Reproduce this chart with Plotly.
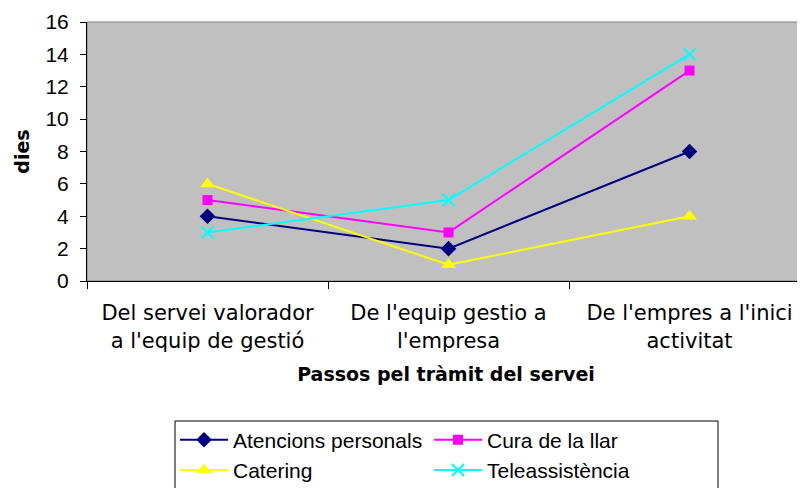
import plotly.graph_objects as go

categories = ["Del servei valorador<br>a l'equip de gestió",
              "De l'equip gestio a<br>l'empresa",
              "De l'empres a l'inici<br>activitat"]
atencions = [4, 2, 8]
cura = [5, 3, 13]
catering = [6, 1, 4]
tele = [3, 5, 14]

series = [
    ("Atencions personals", atencions, "#000080", "diamond", 12),
    ("Cura de la llar", cura, "#FF00FF", "square", 10),
    ("Catering", catering, "#FFFF00", "triangle-up", 13),
    ("Teleassistència", tele, "#00FFFF", "x-thin-open", 12),
]

fig = go.Figure()
for name, vals, col, sym, sz in series:
    mk = dict(symbol=sym, size=sz, color=col)
    if sym.startswith("x-thin"):
        mk["line"] = dict(color=col, width=2)
    fig.add_trace(go.Scatter(x=categories, y=vals, name=name, mode="lines+markers",
                             line=dict(color=col, width=2), marker=mk))

# page body has an 8px margin, so the figure is offset by (8, 8)
fig.update_layout(
    width=797, height=480,
    margin=dict(l=79, r=0, t=14, b=207, autoexpand=False),
    paper_bgcolor="white", plot_bgcolor="#C0C0C0",
    font=dict(family="Liberation Sans, Arial", size=21, color="black"),
    showlegend=True,
    legend=dict(orientation="h", x=0.1226, xanchor="left", y=-0.535, yanchor="top",
                borderwidth=0, bgcolor="rgba(0,0,0,0)",
                font=dict(family="Liberation Sans, Arial", size=21),
                entrywidth=191, entrywidthmode="pixels", itemwidth=48),
    shapes=[
        dict(type="rect", xref="paper", yref="paper", x0=0, x1=1, y0=0, y1=1,
             line=dict(color="#808080", width=1), fillcolor="rgba(0,0,0,0)", layer="below"),
        dict(type="rect", xref="paper", yref="paper",
             x0=(175 - 87) / 718, x1=(718 - 87) / 718,
             y0=(281 - 421) / 259, y1=(281 - 500) / 259,
             line=dict(color="black", width=1), fillcolor="white", layer="above"),
    ],
)
fig.update_xaxes(type="category", range=[-0.5, 2.479], tickson="boundaries", automargin=False,
                 ticks="outside", ticklen=7, tickcolor="black", showline=True, linecolor="black",
                 linewidth=1, showgrid=False, zeroline=False, ticklabelstandoff=13,
                 tickfont=dict(family="DejaVu Sans", size=21),
                 title=dict(text="<b>Passos pel tràmit del servei</b>",
                            font=dict(family="DejaVu Sans", size=19), standoff=16))
fig.update_yaxes(range=[0, 16], dtick=2, ticks="outside", ticklen=6, tickcolor="black", automargin=False,
                 showline=True, linecolor="black", linewidth=1, showgrid=False, zeroline=False,
                 ticklabelstandoff=7,
                 tickfont=dict(family="Liberation Sans, Arial", size=21),
                 title=dict(text="<b>dies</b>", font=dict(family="DejaVu Sans", size=19), standoff=10))

fig.write_html("out.html")
